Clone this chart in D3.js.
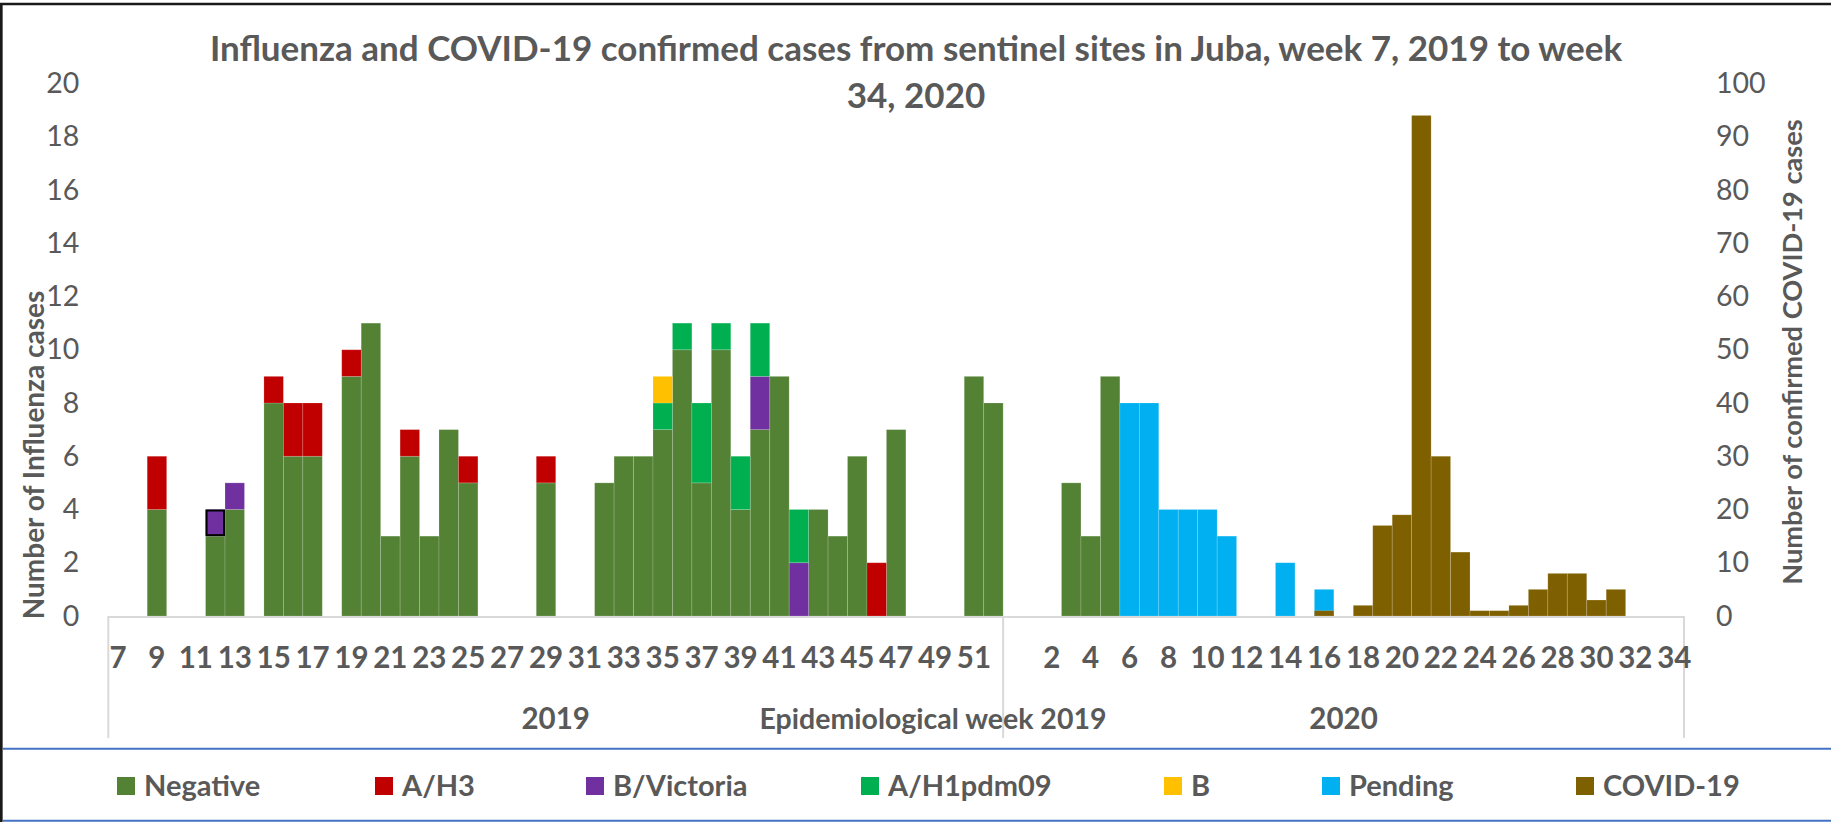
<!DOCTYPE html>
<html>
<head>
<meta charset="utf-8">
<script src="https://cdn.jsdelivr.net/npm/d3@7"></script>
<style>
  html, body { margin: 0; padding: 0; background: #ffffff; }
  svg { display: block; }
  text { font-family: Lato, "Open Sans", "Liberation Sans", sans-serif; fill: #595959; }
</style>
</head>
<body>
<svg id="chart" width="1831" height="822"></svg>
<script>
// ---------------- DATA ----------------
const weeks2019 = ["7","8","9","10","11","12","13","14","15","16","17","18","19","20","21","22","23","24","25","26","27","28","29","30","31","32","33","34","35","36","37","38","39","40","41","42","43","44","45","46","47","48","49","50","51","52"];
const weeks2020 = ["","1","2","3","4","5","6","7","8","9","10","11","12","13","14","15","16","17","18","19","20","21","22","23","24","25","26","27","28","29","30","31","32","33","34"];
const years = ["2019", "2020"];

// Influenza (left axis), one value per week: 2019 weeks 7..52, then 2020 ("",1..34)
const negative2019 = [0,0,4,0,0,3,4,0,8,6,6,0,9,11,3,6,3,7,5,0,0,0,5,0,0,5,6,6,7,10,5,10,4,7,9,0,4,3,6,0,7,0,0,0,9,8];
const ah3_2019     = [0,0,2,0,0,0,0,0,1,2,2,0,1,0,0,1,0,0,1,0,0,0,1,0,0,0,0,0,0,0,0,0,0,0,0,0,0,0,0,2,0,0,0,0,0,0];
const bvic2019     = [0,0,0,0,0,1,1,0,0,0,0,0,0,0,0,0,0,0,0,0,0,0,0,0,0,0,0,0,0,0,0,0,0,2,0,2,0,0,0,0,0,0,0,0,0,0];
const ah1_2019     = [0,0,0,0,0,0,0,0,0,0,0,0,0,0,0,0,0,0,0,0,0,0,0,0,0,0,0,0,1,1,3,1,2,2,0,2,0,0,0,0,0,0,0,0,0,0];
const b2019        = [0,0,0,0,0,0,0,0,0,0,0,0,0,0,0,0,0,0,0,0,0,0,0,0,0,0,0,0,1,0,0,0,0,0,0,0,0,0,0,0,0,0,0,0,0,0];
const pending2019  = [0,0,0,0,0,0,0,0,0,0,0,0,0,0,0,0,0,0,0,0,0,0,0,0,0,0,0,0,0,0,0,0,0,0,0,0,0,0,0,0,0,0,0,0,0,0];

const negative2020 = [0,0,0,5,3,9,0,0,0,0,0,0,0,0,0,0,0,0,0,0,0,0,0,0,0,0,0,0,0,0,0,0,0,0,0];
const ah3_2020     = [0,0,0,0,0,0,0,0,0,0,0,0,0,0,0,0,0,0,0,0,0,0,0,0,0,0,0,0,0,0,0,0,0,0,0];
const bvic2020     = [0,0,0,0,0,0,0,0,0,0,0,0,0,0,0,0,0,0,0,0,0,0,0,0,0,0,0,0,0,0,0,0,0,0,0];
const ah1_2020     = [0,0,0,0,0,0,0,0,0,0,0,0,0,0,0,0,0,0,0,0,0,0,0,0,0,0,0,0,0,0,0,0,0,0,0];
const b2020        = [0,0,0,0,0,0,0,0,0,0,0,0,0,0,0,0,0,0,0,0,0,0,0,0,0,0,0,0,0,0,0,0,0,0,0];
const pending2020  = [0,0,0,0,0,0,8,8,4,4,4,3,0,0,2,0,1,0,0,0,0,0,0,0,0,0,0,0,0,0,0,0,0,0,0];

// COVID-19 confirmed cases (right axis)
const covid2019 = [0,0,0,0,0,0,0,0,0,0,0,0,0,0,0,0,0,0,0,0,0,0,0,0,0,0,0,0,0,0,0,0,0,0,0,0,0,0,0,0,0,0,0,0,0,0];
const covid2020 = [0,0,0,0,0,0,0,0,0,0,0,0,0,0,0,0,1,0,2,17,19,94,30,12,1,1,2,5,8,8,3,5,0,0,0];

const seriesNames  = ["Negative","A/H3","B/Victoria","A/H1pdm09","B","Pending","COVID-19"];
const seriesColors = ["#548235","#C00000","#7030A0","#00B050","#FFC000","#00B0F0","#7F6000"];
const leftTicks  = [0,2,4,6,8,10,12,14,16,18,20];
const rightTicks = [0,10,20,30,40,50,60,70,80,90,100];
// data point shown with a black outline in the original (2019 week 12, B/Victoria)
const outlinedPoint = { year: "2019", week: "12", series: "B/Victoria" };

const titleLines = ["Influenza and COVID-19 confirmed cases from sentinel sites in Juba, week 7, 2019 to week", "34, 2020"];
const leftTitle  = "Number of Influenza cases";
const rightTitle = "Number of confirmed COVID-19 cases";
const xTitle     = "Epidemiological week 2019";

// ---------------- BUILD ROWS ----------------
const fluKeys = seriesNames.slice(0, 6);
const rows = [];
function addYear(year, weeks, neg, h3, bv, h1, b, pend, cov) {
  weeks.forEach((w, i) => {
    rows.push({
      key: year + "-" + i, year, week: w,
      "Negative": neg[i], "A/H3": h3[i], "B/Victoria": bv[i],
      "A/H1pdm09": h1[i], "B": b[i], "Pending": pend[i], "COVID-19": cov[i]
    });
  });
}
addYear("2019", weeks2019, negative2019, ah3_2019, bvic2019, ah1_2019, b2019, pending2019, covid2019);
addYear("2020", weeks2020, negative2020, ah3_2020, bvic2020, ah1_2020, b2020, pending2020, covid2020);

const color = d3.scaleOrdinal().domain(seriesNames).range(seriesColors);

// ---------------- LAYOUT ----------------
const svg = d3.select("#chart");
const plot = { left: 108.3, right: 1684, top: 83.5, bottom: 616 };
const x = d3.scaleBand().domain(rows.map(d => d.key)).range([plot.left, plot.right]).paddingInner(0).paddingOuter(0);
const yL = d3.scaleLinear().domain([0, 20]).range([plot.bottom, plot.top]);
const yR = d3.scaleLinear().domain([0, 100]).range([plot.bottom, plot.top]);

// outer frame
svg.append("rect").attr("x", 0).attr("y", 0).attr("width", 1831).attr("height", 822).attr("fill", "#fff");
svg.append("line").attr("x1", 0).attr("x2", 1831).attr("y1", 4).attr("y2", 4).attr("stroke", "#1a1a1a").attr("stroke-width", 2.5);
svg.append("line").attr("x1", 1.3).attr("x2", 1.3).attr("y1", 3).attr("y2", 822).attr("stroke", "#1a1a1a").attr("stroke-width", 2.7);
svg.append("line").attr("x1", 3).attr("x2", 1831).attr("y1", 748.8).attr("y2", 748.8).attr("stroke", "#4472C4").attr("stroke-width", 2);
svg.append("line").attr("x1", 3).attr("x2", 1831).attr("y1", 820.8).attr("y2", 820.8).attr("stroke", "#4472C4").attr("stroke-width", 2);

// title
const title = svg.append("text").attr("text-anchor", "middle").attr("font-weight", 700).attr("font-size", 35);
title.selectAll("tspan").data(titleLines).join("tspan")
  .attr("x", 916).attr("y", (d, i) => i === 0 ? 61 : 108).text(d => d);

// stacked influenza bars
const stack = d3.stack().keys(fluKeys);
const stacked = stack(rows);
const gBars = svg.append("g");
gBars.selectAll("g").data(stacked).join("g")
  .attr("fill", s => color(s.key))
  .selectAll("rect").data(s => s.map(p => ({ s: s.key, p })).filter(o => o.p[1] - o.p[0] > 0))
  .join("rect")
  .attr("x", o => x(o.p.data.key))
  .attr("width", x.bandwidth())
  .attr("y", o => yL(o.p[1]))
  .attr("height", o => yL(o.p[0]) - yL(o.p[1]))
  .attr("stroke", "rgba(255,255,255,0.2)")
  .attr("stroke-width", 0.8);

// COVID-19 bars (secondary axis)
svg.append("g").selectAll("rect").data(rows.filter(d => d["COVID-19"] > 0)).join("rect")
  .attr("x", d => x(d.key))
  .attr("width", x.bandwidth())
  .attr("y", d => yR(d["COVID-19"]))
  .attr("height", d => yR(0) - yR(d["COVID-19"]))
  .attr("fill", color("COVID-19"))
  .attr("stroke", "rgba(255,255,255,0.2)")
  .attr("stroke-width", 0.8);

// outlined point
{
  const s = stacked.find(s => s.key === outlinedPoint.series);
  const p = s.find(p => p.data.year === outlinedPoint.year && p.data.week === outlinedPoint.week);
  svg.append("rect")
    .attr("x", x(p.data.key) + 1).attr("width", x.bandwidth() - 2)
    .attr("y", yL(p[1]) + 1).attr("height", yL(p[0]) - yL(p[1]) - 2)
    .attr("fill", "none").attr("stroke", "#000").attr("stroke-width", 2);
}

// x axis line and group separators
svg.append("line").attr("x1", plot.left).attr("x2", plot.right).attr("y1", plot.bottom + 1).attr("y2", plot.bottom + 1)
  .attr("stroke", "#d9d9d9").attr("stroke-width", 2);
const firstOf2020 = rows.find(d => d.year === "2020").key;
const seps = [plot.left, x(firstOf2020), plot.right];
svg.append("g").selectAll("line").data(seps).join("line")
  .attr("x1", d => d).attr("x2", d => d).attr("y1", plot.bottom).attr("y2", 738)
  .attr("stroke", "#d9d9d9").attr("stroke-width", 2);

// x tick labels (every other category)
const xAxis = d3.axisBottom(x).tickSize(0).tickPadding(0)
  .tickFormat(k => { const i = rows.findIndex(r => r.key === k); return i % 2 === 0 ? rows[i].week : ""; });
const gx = svg.append("g").attr("transform", `translate(0,${plot.bottom})`).call(xAxis);
gx.select(".domain").remove();
gx.selectAll("text").attr("y", 52).attr("dy", null).attr("font-size", 29.5).attr("font-weight", 700)
  .style("font-family", "Lato, sans-serif").attr("fill", "#595959");

// year group labels
years.forEach(yr => {
  const ks = rows.filter(r => r.year === yr);
  const cx = (x(ks[0].key) + x(ks[ks.length - 1].key) + x.bandwidth()) / 2;
  svg.append("text").attr("x", cx).attr("y", 729).attr("text-anchor", "middle")
    .attr("font-size", 29.5).attr("font-weight", 700).text(yr);
});
svg.append("text").attr("x", 933).attr("y", 729).attr("text-anchor", "middle")
  .attr("font-size", 28.5).attr("font-weight", 700).text(xTitle);

// left axis
const gl = svg.append("g").attr("transform", `translate(${plot.left},0)`)
  .call(d3.axisLeft(yL).tickValues(leftTicks).tickSize(0).tickPadding(29));
gl.select(".domain").remove();
gl.selectAll("text").attr("font-size", 28.5).style("font-family", "Lato, sans-serif").attr("fill", "#595959");

// right axis
const gr = svg.append("g").attr("transform", `translate(${plot.right},0)`)
  .call(d3.axisRight(yR).tickValues(rightTicks).tickSize(0).tickPadding(32));
gr.select(".domain").remove();
gr.selectAll("text").attr("font-size", 28.5).style("font-family", "Lato, sans-serif").attr("fill", "#595959");

// axis titles
svg.append("text").attr("transform", "translate(34,455) rotate(-90)").attr("text-anchor", "middle")
  .attr("dy", "0.35em").attr("font-size", 28).attr("font-weight", 700).text(leftTitle);
svg.append("text").attr("transform", "translate(1792,352) rotate(-90)").attr("text-anchor", "middle")
  .attr("dy", "0.35em").attr("font-size", 27.2).attr("font-weight", 700).text(rightTitle);

// legend
const legendX = [117, 375, 586, 861, 1164, 1322, 1576];
const lg = svg.append("g").selectAll("g").data(seriesNames).join("g")
  .attr("transform", (d, i) => `translate(${legendX[i]},777)`);
lg.append("rect").attr("width", 18).attr("height", 18).attr("fill", d => color(d));
lg.append("text").attr("x", 27).attr("y", 9).attr("dy", "0.36em")
  .attr("font-size", 29).attr("font-weight", 700).text(d => d);
</script>
</body>
</html>
